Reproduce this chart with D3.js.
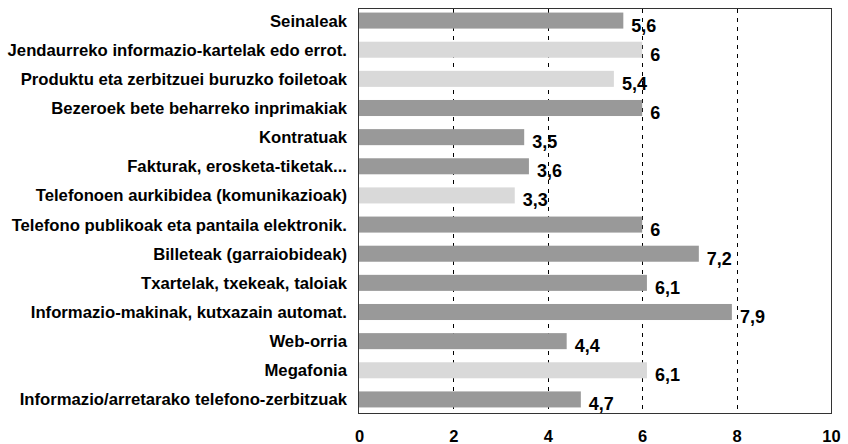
<!DOCTYPE html>
<html>
<head>
<meta charset="utf-8">
<title>Bar chart</title>
<script src="https://d3js.org/d3.v7.min.js"></script>
<style>
  body { margin: 0; background: #fff; }
  svg text { font-family: Arial, "Liberation Sans", sans-serif; font-weight: bold; fill: #000; }
</style>
</head>
<body>
<svg id="chart" width="848" height="444"></svg>
<script>
// categories, top to bottom
var categories = [
  "Seinaleak",
  "Jendaurreko informazio-kartelak edo errot.",
  "Produktu eta zerbitzuei buruzko foiletoak",
  "Bezeroek bete beharreko inprimakiak",
  "Kontratuak",
  "Fakturak, erosketa-tiketak...",
  "Telefonoen aurkibidea (komunikazioak)",
  "Telefono publikoak eta pantaila elektronik.",
  "Billeteak (garraiobideak)",
  "Txartelak, txekeak, taloiak",
  "Informazio-makinak, kutxazain automat.",
  "Web-orria",
  "Megafonia",
  "Informazio/arretarako telefono-zerbitzuak"
];
var values = [5.6, 6, 5.4, 6, 3.5, 3.6, 3.3, 6, 7.2, 6.1, 7.9, 4.4, 6.1, 4.7];
// light bars are the highlighted ones
var highlighted = [false, true, true, false, false, false, true, false, false, false, false, false, true, false];
var xTicks = [0, 2, 4, 6, 8, 10];

var svg = d3.select("#chart");

var x = d3.scaleLinear().domain([0, 10]).range([359, 831]);
var y = d3.scaleBand().domain(categories).range([6, 414])
  .paddingInner(0.45).paddingOuter(0.225);

// dashed grid lines (behind the bars)
svg.append("g")
  .selectAll("line")
  .data(xTicks.filter(function(t) { return t > 0 && t < 10; }))
  .enter().append("line")
  .attr("x1", function(d) { return Math.round(x(d)) + 0.5; })
  .attr("x2", function(d) { return Math.round(x(d)) + 0.5; })
  .attr("y1", 9)
  .attr("y2", 413)
  .attr("stroke", "#000")
  .attr("stroke-width", 1)
  .attr("stroke-dasharray", "4,5");

// bars
svg.append("g")
  .selectAll("rect")
  .data(values)
  .enter().append("rect")
  .attr("x", x(0))
  .attr("y", function(d, i) { return y(categories[i]); })
  .attr("width", function(d) { return x(d) - x(0); })
  .attr("height", y.bandwidth())
  .attr("fill", function(d, i) { return highlighted[i] ? "#d9d9d9" : "#999999"; });

// plot frame
svg.append("rect")
  .attr("x", 358.5)
  .attr("y", 8.5)
  .attr("width", 473)
  .attr("height", 405)
  .attr("fill", "none")
  .attr("stroke", "#333")
  .attr("stroke-width", 1);

// category labels
svg.append("g")
  .selectAll("text")
  .data(categories)
  .enter().append("text")
  .attr("x", 347)
  .attr("y", function(d) { return y(d) + y.bandwidth() / 2 + 6; })
  .attr("text-anchor", "end")
  .style("font-size", "16.7px")
  .text(function(d) { return d; });

// value labels
svg.append("g")
  .selectAll("text")
  .data(values)
  .enter().append("text")
  .attr("x", function(d) { return x(d) + 8; })
  .attr("y", function(d, i) { return y(categories[i]) + y.bandwidth() / 2 + 11; })
  .style("font-size", "18px")
  .text(function(d) { return String(d).replace(".", ","); });

// x axis tick labels
var xAxis = d3.axisBottom(x).tickValues(xTicks).tickSize(0).tickPadding(0)
  .tickFormat(function(d) { return d; });
var gx = svg.append("g")
  .attr("transform", "translate(0,413)")
  .call(xAxis);
gx.select(".domain").remove();
gx.selectAll("text")
  .attr("dy", null)
  .attr("y", 28.7)
  .style("font-size", "16.5px")
  .style("font-family", "Arial, 'Liberation Sans', sans-serif")
  .style("font-weight", "bold")
  .attr("fill", "#000");
</script>
</body>
</html>
